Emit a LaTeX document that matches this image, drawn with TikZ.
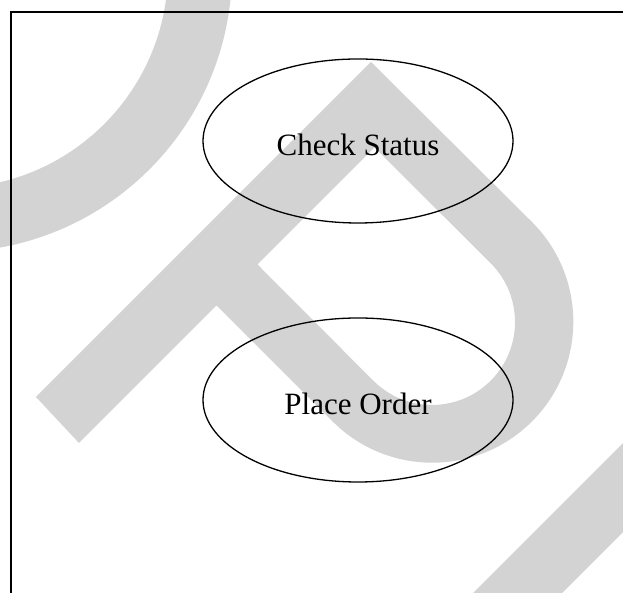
\documentclass[tikz,border=0pt]{standalone}
\usepackage{fontspec}
\setmainfont{Liberation Serif}
\usetikzlibrary{shapes.geometric}
\definecolor{wmgray}{RGB}{211,211,211}
\tikzset{
  usecase/.style={draw=black, line width=1.3pt, ellipse, minimum width=310pt,
    minimum height=164pt, inner sep=0pt},
  uclabel/.style={anchor=base, inner sep=0pt, font=\fontsize{31}{31}\selectfont},
  frameline/.style={draw=black, line width=1.3pt},
  mark band/.style={fill=wmgray, draw=none}
}
\begin{document}
\begin{tikzpicture}[x=1pt, y=1pt]
  \useasboundingbox (0,0) rectangle (623,593);
  \fill[white] (0,0) rectangle (623,593);
  \begin{scope}
    \clip (0,0) rectangle (623,593);
    % curved band in the upper left corner
    \fill[mark band, even odd rule] (-50,623) circle[radius=282pt]
                                     (-50,623) circle[radius=218pt];
    % chevron with its looped right arm
    \fill[mark band, even odd rule]
      (36,196) -- (371,531) -- (532,371)
        arc[start angle=45, end angle=-135, radius=141pt]
        -- (216.5,287.5) -- (79,150) -- cycle
      (374.5,445.5) -- (490.7,329.7)
        arc[start angle=45, end angle=-135, radius=83pt]
        -- (257.5,328.5) -- cycle;
    % diagonal band in the lower right corner
    \fill[mark band] (423,-50) -- (673,200) -- (762,200) -- (512,-50) -- cycle;
  \end{scope}
  % frame
  \coordinate (tl) at (11,581);
  \coordinate (tr) at (623,581);
  \coordinate (bl) at (11,0);
  \draw[frameline] (tr) -- (tl) -- (bl);
  % use cases
  \node[usecase] (cs) at (358,452) {};
  \node[uclabel] (cstext) at ([yshift=-15pt]cs.center) {Check Status};
  \node[usecase] (po) at (358,193) {};
  \node[uclabel] (potext) at ([yshift=-15pt]po.center) {Place Order};
\end{tikzpicture}
\end{document}
